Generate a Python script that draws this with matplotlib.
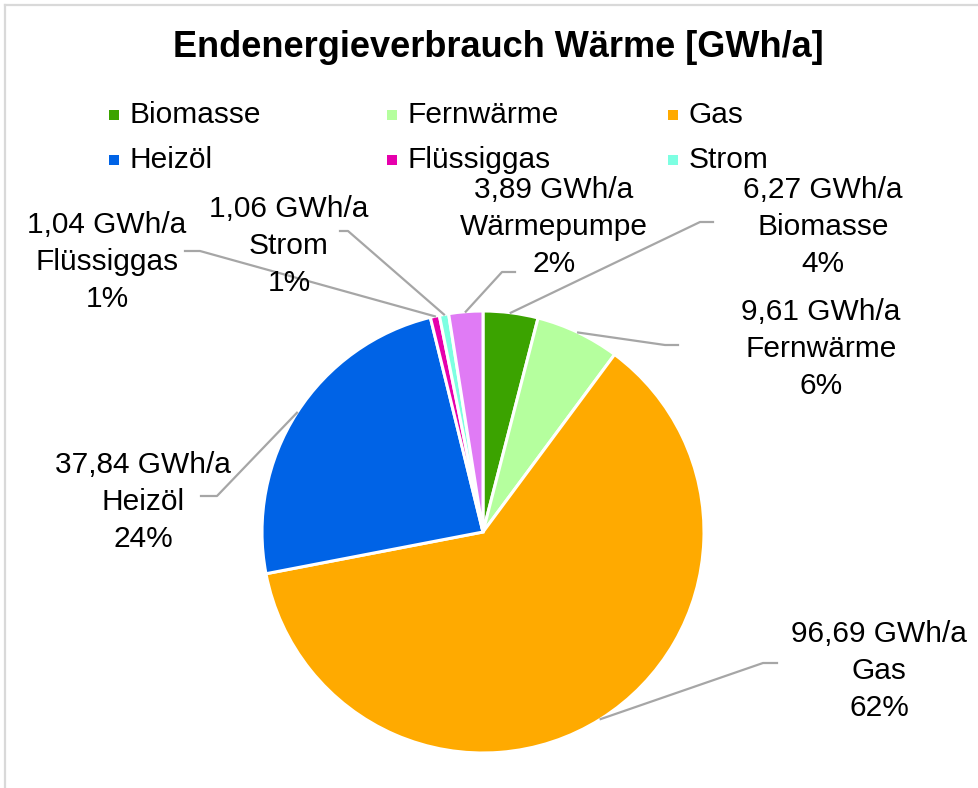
import matplotlib
matplotlib.use("Agg")
import matplotlib.pyplot as plt
from matplotlib.lines import Line2D
import numpy as np

plt.rcParams['font.family'] = ['Liberation Sans', 'DejaVu Sans']

# data
title = "Endenergieverbrauch Wärme [GWh/a]"
categories = ["Biomasse", "Fernwärme", "Gas", "Heizöl", "Flüssiggas", "Strom", "Wärmepumpe"]
values_gwh = [6.27, 9.61, 96.69, 37.84, 1.04, 1.06, 3.89]
legend_entries = ["Biomasse", "Fernwärme", "Gas", "Heizöl", "Flüssiggas", "Strom"]

colors = ["#3BA300", "#B5FF9E", "#FFAA00", "#0063E6", "#E600AC", "#7DFFE2", "#E07BF5"]

# layout, in pixels of the 979x788 picture
W, H = 979, 788
CX, CY, R = 483, 532, 221

def px(x, y):
    """pixel position -> pie units (centre 0,0, radius 1)"""
    return (x - CX) / R, (CY - y) / R

# text centre, leader elbow, leader end
label_layout = {
    "Biomasse":   ((823, 227), (700, 222), (713, 222)),
    "Fernwärme":  ((821, 349), (665, 345), (678, 345)),
    "Gas":        ((879, 671), (763, 663), (777, 663)),
    "Heizöl":     ((143, 502), (217, 496), (201, 496)),
    "Flüssiggas": ((107, 262), (200, 251), (185, 251)),
    "Strom":      ((289, 246), (348, 231), (340, 231)),
    "Wärmepumpe": ((554, 227), (502, 272), (515, 272)),
}
legend_x = [114, 392, 673]
legend_y = [115, 160]

fig = plt.figure(figsize=(W / 100, H / 100), dpi=100)
ax = fig.add_axes([0, 0, 1, 1])
ax.axis("off")

wedges, _ = ax.pie(values_gwh, colors=colors, startangle=90, counterclock=False,
                   radius=1, center=(0, 0),
                   wedgeprops=dict(edgecolor="white", linewidth=2.2))

x0, y1 = px(0, 0)
x1, y0 = px(W, H)
ax.set_xlim(x0, x1)
ax.set_ylim(y0, y1)
ax.set_aspect("equal")

total = sum(values_gwh)
for w, name, v in zip(wedges, categories, values_gwh):
    ang = np.deg2rad((w.theta1 + w.theta2) / 2)
    sx, sy = np.cos(ang), np.sin(ang)
    (tx, ty), elbow, end = label_layout[name]
    ex, ey = px(*elbow)
    nx, ny = px(*end)
    ax.plot([sx, ex, nx], [sy, ey, ny], color="#A6A6A6", lw=1.6, zorder=1)
    txt = f"{v:.2f}".replace(".", ",") + " GWh/a\n" + name + f"\n{v / total * 100:.0f}%"
    ax.text(*px(tx, ty), txt, ha="center", va="center", fontsize=21.5,
            linespacing=1.43, color="#000000")

# legend drawn by hand: 2 rows x 3 columns
for i, name in enumerate(legend_entries):
    mx, my = legend_x[i % 3], legend_y[i // 3]
    ax.scatter(*px(mx, my), marker="s", s=60, color=colors[i], linewidths=0)
    ax.text(*px(mx + 16, my), name, ha="left", va="center", fontsize=21.5, color="#000000")

ax.text(*px(498, 48), title, ha="center", va="center", fontsize=26,
        fontweight="bold", color="#000000")

# light frame on the left and top edges
fig.add_artist(Line2D([5 / W, 5 / W], [0, 1 - 5 / H], transform=fig.transFigure,
                      color="#D9D9D9", lw=1.6))
fig.add_artist(Line2D([5 / W, 1], [1 - 5 / H, 1 - 5 / H], transform=fig.transFigure,
                      color="#D9D9D9", lw=1.6))

fig.savefig("out.png", dpi=100)
